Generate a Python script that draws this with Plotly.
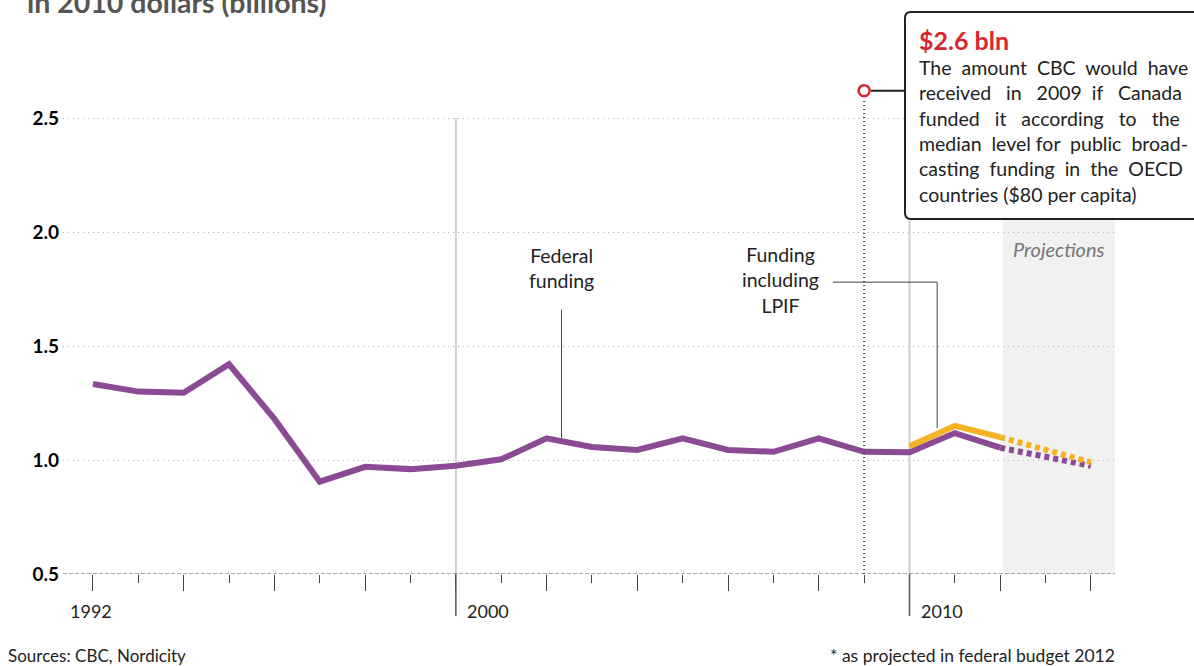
import plotly.graph_objects as go

# ---------------- data ----------------
years_fed = list(range(1992, 2013))
federal = [1.333, 1.30, 1.295, 1.42, 1.18, 0.905, 0.97, 0.96, 0.975, 1.003,
           1.095, 1.057, 1.044, 1.095, 1.044, 1.036, 1.095, 1.036, 1.034, 1.118, 1.054]
years_proj = [2012, 2013, 2014]
federal_proj = [1.054, 1.017, 0.974]
years_lpif = [2010, 2011, 2012]
lpif = [1.06, 1.15, 1.10]
lpif_proj = [1.10, 1.045, 0.99]
oecd_year = 2009
oecd_value = 2.62

y_ticks = [0.5, 1.0, 1.5, 2.0, 2.5]
y_tick_text = ["0.5", "1.0", "1.5", "2.0", "2.5"]
major_years = list(range(1992, 2015, 2))
label_years = ["1992", "2000", "2010"]

PURPLE = "#8b4b94"
ORANGE = "#f4b324"
RED = "#d7262d"
FONT = "Lato"
NB = "\u00a0"

# ---------------- layout geometry helpers ----------------
W, H = 1194, 666
ML, MR, MT, MB = 63, 79, 4, 92
PW, PH = W - ML - MR, H - MT - MB


def px_x(px):
    return (px - ML) / PW


def px_y(py):
    return (H - MB - py) / PH


def justify(line, extras):
    words = line.split(" ")
    out = words[0]
    for w, e in zip(words[1:], extras):
        out += " " + NB * e + w
    return out


fig = go.Figure()

# lines
fig.add_trace(go.Scatter(x=years_fed, y=federal, mode="lines",
                         line=dict(color=PURPLE, width=6), hoverinfo="skip"))
fig.add_trace(go.Scatter(x=years_proj, y=federal_proj, mode="lines",
                         line=dict(color=PURPLE, width=6, dash="5px,4px"), hoverinfo="skip"))
fig.add_trace(go.Scatter(x=years_lpif, y=lpif, mode="lines",
                         line=dict(color=ORANGE, width=6), hoverinfo="skip"))
fig.add_trace(go.Scatter(x=years_proj, y=lpif_proj, mode="lines",
                         line=dict(color=ORANGE, width=6, dash="5px,4px"), hoverinfo="skip"))
fig.add_trace(go.Scatter(x=[oecd_year], y=[oecd_value], mode="markers",
                         marker=dict(symbol="circle-open", size=11, color=RED,
                                     line=dict(width=2.5, color=RED)),
                         hoverinfo="skip", cliponaxis=False))

shapes = []
# projections band
shapes.append(dict(type="rect", xref="x", yref="y", x0=2012.06, x1=2014.6, y0=0.5, y1=2.1,
                   fillcolor="#f1f1f1", line=dict(width=0), layer="below"))
# dashed base line at 0.5
shapes.append(dict(type="line", xref="paper", yref="y", x0=0, x1=1, y0=0.5, y1=0.5,
                   line=dict(color="#555", width=1, dash="4px,2px")))
# decade lines
for yr in (2000, 2010):
    shapes.append(dict(type="line", xref="x", yref="y", x0=yr, x1=yr, y0=0.5, y1=2.5,
                       line=dict(color="#cfcfcf", width=2), layer="below"))
    shapes.append(dict(type="line", xref="x", yref="paper", x0=yr, x1=yr,
                       y0=0, y1=px_y(616), line=dict(color="#555", width=1.5)))
# dotted line from OECD marker
shapes.append(dict(type="line", xref="x", yref="y", x0=oecd_year, x1=oecd_year,
                   y0=0.5, y1=oecd_value - 0.035,
                   line=dict(color="#444", width=2, dash="1px,3px")))
# leader lines
shapes.append(dict(type="line", xref="x", yref="y", x0=2002.33, x1=2002.33, y0=1.66, y1=1.097,
                   line=dict(color="#444", width=1)))
shapes.append(dict(type="path", xref="x", yref="y",
                   path="M 2008.31 1.78 L 2010.61 1.78 L 2010.61 1.14",
                   line=dict(color="#444", width=1)))

# callout box (rounded rectangle) in paper coords
bx0, bx1, by0, by1 = px_x(905), px_x(1210), px_y(219), px_y(12)
rx, ry = 6 / PW, 6 / PH
box_path = (f"M {bx0 + rx} {by1} L {bx1} {by1} L {bx1} {by0} L {bx0 + rx} {by0} "
            f"Q {bx0} {by0} {bx0} {by0 + ry} L {bx0} {by1 - ry} "
            f"Q {bx0} {by1} {bx0 + rx} {by1} Z")
shapes.append(dict(type="path", xref="paper", yref="paper", path=box_path,
                   fillcolor="white", line=dict(color="#222", width=2)))
# connector from marker to box
shapes.append(dict(type="line", xref="paper", yref="y", x0=px_x(871), x1=px_x(905),
                   y0=oecd_value, y1=oecd_value, line=dict(color="#222", width=2)))

annotations = []
# title (cut off at top)
annotations.append(dict(text="in 2010 dollars (billions)", xref="paper", yref="paper",
                        x=px_x(25), y=px_y(2), xanchor="left", yanchor="middle",
                        showarrow=False, font=dict(family=FONT, size=28.5, color="#555",
                                                   weight="bold")))
# x labels
annotations.append(dict(text=label_years[0], xref="x", yref="paper", x=1992 - 0.05, y=px_y(611),
                        xanchor="center", yanchor="middle", showarrow=False,
                        font=dict(family=FONT, size=18, color="#222")))
for lab in label_years[1:]:
    annotations.append(dict(text=lab, xref="x", yref="paper", x=int(lab) + 0.2, y=px_y(611),
                            xanchor="left", yanchor="middle", showarrow=False,
                            font=dict(family=FONT, size=18, color="#222")))
# series labels
annotations.append(dict(text="Federal<br>funding", xref="x", yref="y", x=2002.33, y=1.844,
                        showarrow=False, align="center",
                        font=dict(family=FONT, size=19.5, color="#222")))
annotations.append(dict(text="Funding<br>including<br>LPIF", xref="x", yref="y", x=2007.15, y=1.789,
                        showarrow=False, align="center",
                        font=dict(family=FONT, size=19.5, color="#222")))
annotations.append(dict(text="<i>Projections</i>", xref="x", yref="y", x=2013.3, y=1.925,
                        showarrow=False, font=dict(family=FONT, size=20, color="#777")))
# callout text
annotations.append(dict(text="<b>$2.6 bln</b>", xref="paper", yref="paper",
                        x=px_x(917), y=px_y(40), xanchor="left", yanchor="middle",
                        showarrow=False, font=dict(family=FONT, size=25, color=RED)))
callout_lines = [
    justify("The amount CBC would have", [1, 1, 1, 1]),
    justify("received in 2009 if Canada", [2, 2, 1, 2]),
    justify("funded it according to the", [2, 2, 2, 2]),
    justify("median level for public broad-", [1, 0, 1, 1]),
    justify("casting funding in the OECD", [1, 1, 1, 1]),
    "countries ($80 per capita)",
]
annotations.append(dict(text="<br>".join(callout_lines),
                        xref="paper", yref="paper", x=px_x(917), y=px_y(131),
                        xanchor="left", yanchor="middle", align="left", showarrow=False,
                        font=dict(family=FONT, size=19.5, color="#222")))
# footer
annotations.append(dict(text="Sources: CBC, Nordicity", xref="paper", yref="paper",
                        x=px_x(6), y=px_y(655), xanchor="left", yanchor="middle",
                        showarrow=False, font=dict(family=FONT, size=17, color="#222")))
annotations.append(dict(text="* as projected in federal budget 2012", xref="paper", yref="paper",
                        x=px_x(1117), y=px_y(655), xanchor="right", yanchor="middle",
                        showarrow=False, font=dict(family=FONT, size=17.5, color="#222")))

fig.update_layout(
    width=W, height=H,
    margin=dict(l=ML, r=MR, t=MT, b=MB),
    paper_bgcolor="white", plot_bgcolor="white",
    showlegend=False,
    shapes=shapes, annotations=annotations,
    xaxis=dict(range=[1991.34, 2014.53], tickvals=major_years, showticklabels=False,
               ticks="outside", ticklen=16, tickwidth=1.2, tickcolor="#444",
               minor=dict(dtick=1, tick0=1992, ticks="outside", ticklen=8, tickwidth=1,
                          tickcolor="#444", showgrid=False),
               showgrid=False, zeroline=False, showline=False, fixedrange=True),
    yaxis=dict(range=[0.5, 3.0], tickvals=y_ticks, ticktext=y_tick_text,
               tickfont=dict(family=FONT, size=19, color="black", weight="bold"),
               ticks="", ticklabelstandoff=3,
               showgrid=True, gridcolor="#b0b0b0", gridwidth=1, griddash="1px,4px",
               zeroline=False, showline=False, fixedrange=True),
)

fig.write_html("out.html", config={"displayModeBar": False},
               post_script="document.body.style.margin='0';document.body.style.overflow='hidden';")
